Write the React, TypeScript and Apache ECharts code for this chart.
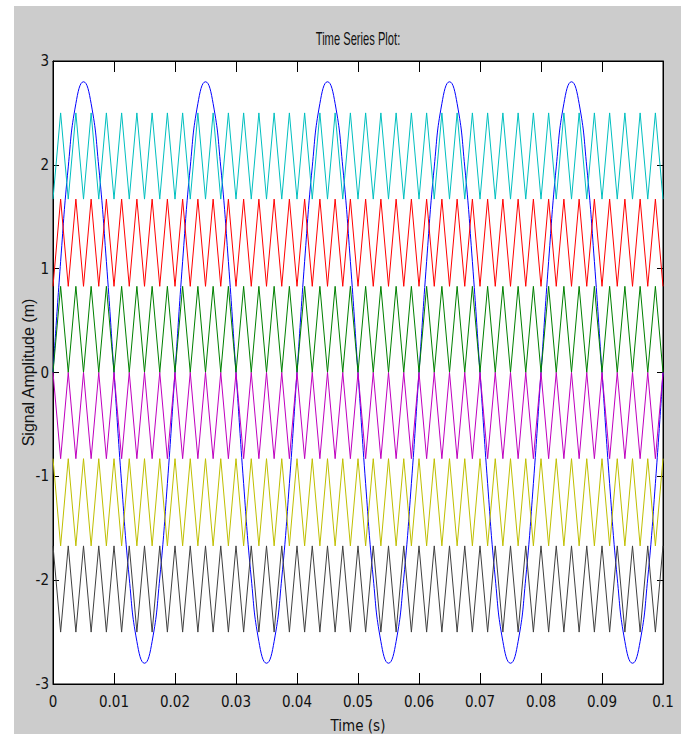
import React, { useEffect, useRef } from "react";
import * as echarts from "echarts";

// Sample times (s), every 0.00125 s
const timeSeconds = [
  0, 0.00125, 0.0025, 0.00375, 0.005, 0.00625, 0.0075, 0.00875, 0.01, 0.01125, 0.0125, 0.01375, 0.015, 0.01625, 0.0175, 0.01875,
  0.02, 0.02125, 0.0225, 0.02375, 0.025, 0.02625, 0.0275, 0.02875, 0.03, 0.03125, 0.0325, 0.03375, 0.035, 0.03625, 0.0375, 0.03875,
  0.04, 0.04125, 0.0425, 0.04375, 0.045, 0.04625, 0.0475, 0.04875, 0.05, 0.05125, 0.0525, 0.05375, 0.055, 0.05625, 0.0575, 0.05875,
  0.06, 0.06125, 0.0625, 0.06375, 0.065, 0.06625, 0.0675, 0.06875, 0.07, 0.07125, 0.0725, 0.07375, 0.075, 0.07625, 0.0775, 0.07875,
  0.08, 0.08125, 0.0825, 0.08375, 0.085, 0.08625, 0.0875, 0.08875, 0.09, 0.09125, 0.0925, 0.09375, 0.095, 0.09625, 0.0975, 0.09875,
  0.1,
];

// Blue slow sine (m)
const blueSignal = [
  0, 1.07, 1.98, 2.59, 2.8, 2.59, 1.98, 1.07, 0, -1.07, -1.98, -2.59, -2.8, -2.59, -1.98, -1.07,
  0, 1.07, 1.98, 2.59, 2.8, 2.59, 1.98, 1.07, 0, -1.07, -1.98, -2.59, -2.8, -2.59, -1.98, -1.07,
  0, 1.07, 1.98, 2.59, 2.8, 2.59, 1.98, 1.07, 0, -1.07, -1.98, -2.59, -2.8, -2.59, -1.98, -1.07,
  0, 1.07, 1.98, 2.59, 2.8, 2.59, 1.98, 1.07, 0, -1.07, -1.98, -2.59, -2.8, -2.59, -1.98, -1.07,
  0, 1.07, 1.98, 2.59, 2.8, 2.59, 1.98, 1.07, 0, -1.07, -1.98, -2.59, -2.8, -2.59, -1.98, -1.07,
  0,
];

const greenSignal = [
  0, 0.83, 0, 0.83, 0, 0.83, 0, 0.83, 0, 0.83, 0, 0.83, 0, 0.83, 0, 0.83,
  0, 0.83, 0, 0.83, 0, 0.83, 0, 0.83, 0, 0.83, 0, 0.83, 0, 0.83, 0, 0.83,
  0, 0.83, 0, 0.83, 0, 0.83, 0, 0.83, 0, 0.83, 0, 0.83, 0, 0.83, 0, 0.83,
  0, 0.83, 0, 0.83, 0, 0.83, 0, 0.83, 0, 0.83, 0, 0.83, 0, 0.83, 0, 0.83,
  0, 0.83, 0, 0.83, 0, 0.83, 0, 0.83, 0, 0.83, 0, 0.83, 0, 0.83, 0, 0.83,
  0,
];

const redSignal = [
  0.83, 1.67, 0.83, 1.67, 0.83, 1.67, 0.83, 1.67, 0.83, 1.67, 0.83, 1.67, 0.83, 1.67, 0.83, 1.67,
  0.83, 1.67, 0.83, 1.67, 0.83, 1.67, 0.83, 1.67, 0.83, 1.67, 0.83, 1.67, 0.83, 1.67, 0.83, 1.67,
  0.83, 1.67, 0.83, 1.67, 0.83, 1.67, 0.83, 1.67, 0.83, 1.67, 0.83, 1.67, 0.83, 1.67, 0.83, 1.67,
  0.83, 1.67, 0.83, 1.67, 0.83, 1.67, 0.83, 1.67, 0.83, 1.67, 0.83, 1.67, 0.83, 1.67, 0.83, 1.67,
  0.83, 1.67, 0.83, 1.67, 0.83, 1.67, 0.83, 1.67, 0.83, 1.67, 0.83, 1.67, 0.83, 1.67, 0.83, 1.67,
  0.83,
];

const cyanSignal = [
  1.67, 2.5, 1.67, 2.5, 1.67, 2.5, 1.67, 2.5, 1.67, 2.5, 1.67, 2.5, 1.67, 2.5, 1.67, 2.5,
  1.67, 2.5, 1.67, 2.5, 1.67, 2.5, 1.67, 2.5, 1.67, 2.5, 1.67, 2.5, 1.67, 2.5, 1.67, 2.5,
  1.67, 2.5, 1.67, 2.5, 1.67, 2.5, 1.67, 2.5, 1.67, 2.5, 1.67, 2.5, 1.67, 2.5, 1.67, 2.5,
  1.67, 2.5, 1.67, 2.5, 1.67, 2.5, 1.67, 2.5, 1.67, 2.5, 1.67, 2.5, 1.67, 2.5, 1.67, 2.5,
  1.67, 2.5, 1.67, 2.5, 1.67, 2.5, 1.67, 2.5, 1.67, 2.5, 1.67, 2.5, 1.67, 2.5, 1.67, 2.5,
  1.67,
];

const magentaSignal = [
  0, -0.83, 0, -0.83, 0, -0.83, 0, -0.83, 0, -0.83, 0, -0.83, 0, -0.83, 0, -0.83,
  0, -0.83, 0, -0.83, 0, -0.83, 0, -0.83, 0, -0.83, 0, -0.83, 0, -0.83, 0, -0.83,
  0, -0.83, 0, -0.83, 0, -0.83, 0, -0.83, 0, -0.83, 0, -0.83, 0, -0.83, 0, -0.83,
  0, -0.83, 0, -0.83, 0, -0.83, 0, -0.83, 0, -0.83, 0, -0.83, 0, -0.83, 0, -0.83,
  0, -0.83, 0, -0.83, 0, -0.83, 0, -0.83, 0, -0.83, 0, -0.83, 0, -0.83, 0, -0.83,
  0,
];

const yellowSignal = [
  -0.83, -1.67, -0.83, -1.67, -0.83, -1.67, -0.83, -1.67, -0.83, -1.67, -0.83, -1.67, -0.83, -1.67, -0.83, -1.67,
  -0.83, -1.67, -0.83, -1.67, -0.83, -1.67, -0.83, -1.67, -0.83, -1.67, -0.83, -1.67, -0.83, -1.67, -0.83, -1.67,
  -0.83, -1.67, -0.83, -1.67, -0.83, -1.67, -0.83, -1.67, -0.83, -1.67, -0.83, -1.67, -0.83, -1.67, -0.83, -1.67,
  -0.83, -1.67, -0.83, -1.67, -0.83, -1.67, -0.83, -1.67, -0.83, -1.67, -0.83, -1.67, -0.83, -1.67, -0.83, -1.67,
  -0.83, -1.67, -0.83, -1.67, -0.83, -1.67, -0.83, -1.67, -0.83, -1.67, -0.83, -1.67, -0.83, -1.67, -0.83, -1.67,
  -0.83,
];

const blackSignal = [
  -1.67, -2.5, -1.67, -2.5, -1.67, -2.5, -1.67, -2.5, -1.67, -2.5, -1.67, -2.5, -1.67, -2.5, -1.67, -2.5,
  -1.67, -2.5, -1.67, -2.5, -1.67, -2.5, -1.67, -2.5, -1.67, -2.5, -1.67, -2.5, -1.67, -2.5, -1.67, -2.5,
  -1.67, -2.5, -1.67, -2.5, -1.67, -2.5, -1.67, -2.5, -1.67, -2.5, -1.67, -2.5, -1.67, -2.5, -1.67, -2.5,
  -1.67, -2.5, -1.67, -2.5, -1.67, -2.5, -1.67, -2.5, -1.67, -2.5, -1.67, -2.5, -1.67, -2.5, -1.67, -2.5,
  -1.67, -2.5, -1.67, -2.5, -1.67, -2.5, -1.67, -2.5, -1.67, -2.5, -1.67, -2.5, -1.67, -2.5, -1.67, -2.5,
  -1.67,
];

const xTickLabels = ["0", "0.01", "0.02", "0.03", "0.04", "0.05", "0.06", "0.07", "0.08", "0.09", "0.1"];
const yTickLabels = ["-3", "-2", "-1", "0", "1", "2", "3"];

const titleText = "Time Series Plot:";
const xAxisName = "Time (s)";
const yAxisName = "Signal Amplitude (m)";

const FONT = '"Liberation Sans Narrow", "DejaVu Sans Condensed", "Liberation Sans", Arial, sans-serif';

export default function App() {
  const ref = useRef<HTMLDivElement>(null);

  useEffect(() => {
    if (!ref.current) return;
    const chart = echarts.init(ref.current, null, { renderer: "svg" });
    const pair = (ys: number[]) => timeSeconds.map((t, i) => [t, ys[i]]);
    const line = (name: string, ys: number[], color: string, smooth: number | boolean) => ({
      type: "line",
      name,
      data: pair(ys),
      symbol: "none",
      showSymbol: false,
      smooth,
      silent: true,
      lineStyle: { color, width: 1 },
      itemStyle: { color },
      emphasis: { disabled: true },
      xAxisIndex: 0,
      yAxisIndex: 0,
    });

    const tickColor = "#000";
    chart.setOption({
      animation: false,
      backgroundColor: "transparent",
      grid: {
        left: 53,
        right: 22,
        top: 61,
        bottom: 50,
        show: true,
        backgroundColor: "#ffffff",
        borderColor: "#000",
        borderWidth: 1,
        containLabel: false,
        outerBoundsMode: "none",
      },
      graphic: [
        {
          type: "text",
          x: 358,
          y: 38,
          scaleX: 0.62,
          style: {
            text: titleText,
            fontSize: 18,
            fontFamily: '"Liberation Sans", Arial, sans-serif',
            fill: "#111",
            textAlign: "center",
            textVerticalAlign: "middle",
          },
        },
      ],
      xAxis: [
        {
          type: "value",
          min: 0,
          max: 0.1,
          interval: 0.01,
          position: "bottom",
          axisLine: { show: true, onZero: false, lineStyle: { color: "#000", width: 1 } },
          axisTick: { show: true, inside: true, length: 11, lineStyle: { color: tickColor } },
          axisLabel: {
            show: true,
            margin: 10,
            fontSize: 15,
            fontFamily: FONT,
            color: "#111",
            formatter: (_v: number, i: number) => xTickLabels[i] ?? String(_v),
          },
          splitLine: { show: false },
          name: xAxisName,
          nameLocation: "middle",
          nameGap: 34,
          nameMoveOverlap: false,
          nameTextStyle: { fontSize: 15, fontFamily: FONT, color: "#111" },
        },
        {
          type: "value",
          min: 0,
          max: 0.1,
          interval: 0.01,
          position: "top",
          axisLine: { show: true, onZero: false, lineStyle: { color: "#000", width: 1 } },
          axisTick: { show: true, inside: true, length: 11, lineStyle: { color: tickColor } },
          axisLabel: { show: false },
          splitLine: { show: false },
        },
      ],
      yAxis: [
        {
          type: "value",
          min: -3,
          max: 3,
          interval: 1,
          position: "left",
          axisLine: { show: true, onZero: false, lineStyle: { color: "#000", width: 1 } },
          axisTick: { show: true, inside: true, length: 6, lineStyle: { color: tickColor } },
          axisLabel: {
            show: true,
            margin: 4,
            fontSize: 15,
            fontFamily: FONT,
            color: "#111",
            formatter: (_v: number, i: number) => yTickLabels[i] ?? String(_v),
          },
          splitLine: { show: false },
          name: yAxisName,
          nameLocation: "middle",
          nameGap: 17,
          nameMoveOverlap: false,
          nameRotate: 90,
          nameTextStyle: { fontSize: 16, fontFamily: '"Liberation Sans", Arial, sans-serif', color: "#111" },
        },
        {
          type: "value",
          min: -3,
          max: 3,
          interval: 1,
          position: "right",
          axisLine: { show: true, onZero: false, lineStyle: { color: "#000", width: 1 } },
          axisTick: { show: true, inside: true, length: 6, lineStyle: { color: tickColor } },
          axisLabel: { show: false },
          splitLine: { show: false },
        },
      ],
      series: [
        line("Blue", blueSignal, "#0000ff", 0.5),
        line("Green", greenSignal, "#008000", false),
        line("Red", redSignal, "#ff0000", false),
        line("Cyan", cyanSignal, "#00bfbf", false),
        line("Magenta", magentaSignal, "#bf00bf", false),
        line("Yellow", yellowSignal, "#bfbf00", false),
        line("Dark gray", blackSignal, "#404040", false),
      ],
    });
    return () => chart.dispose();
  }, []);

  return (
    <div style={{ position: "absolute", left: 0, top: 0, width: 685, height: 734, background: "#ffffff" }}>
      <div style={{ position: "absolute", left: 14, top: 6, width: 667, height: 728, background: "#cccccc" }} />
      <div ref={ref} style={{ position: "absolute", left: 0, top: 0, width: 685, height: 734 }} />
    </div>
  );
}
